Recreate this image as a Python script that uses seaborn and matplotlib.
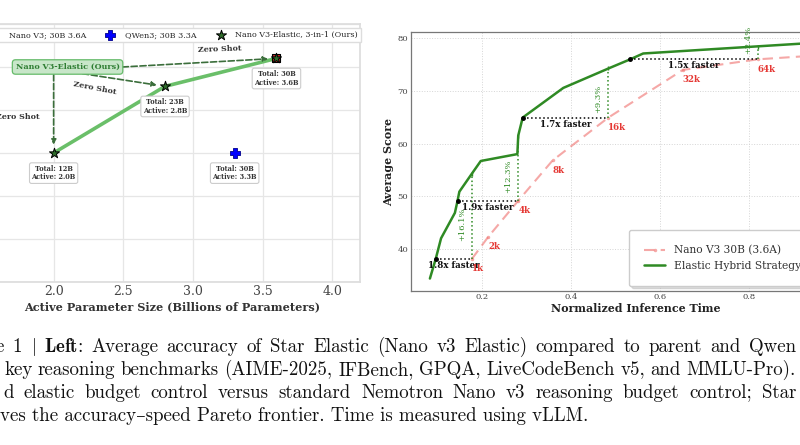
import numpy as np
import matplotlib
matplotlib.use("Agg")
import matplotlib.pyplot as plt
import seaborn as sns

# ---- left panel: accuracy vs active parameters ----
elastic_active = [2.0, 2.8, 3.6]
elastic_score = [72.0, 75.1, 76.4]
elastic_total = ["12B", "23B", "30B"]
elastic_act_txt = ["2.0B", "2.8B", "3.6B"]
nano_active = [3.6]
nano_score = [76.4]
qwen_active = [3.3]
qwen_score = [72.0]
qwen_total = ["30B"]
qwen_act_txt = ["3.3B"]
left_xticks = [2.0, 2.5, 3.0, 3.5, 4.0]
left_yticks = [66, 68, 70, 72, 74, 76, 78]

# ---- right panel: budget control ----
budget_labels = ["1k", "2k", "4k", "8k", "16k", "32k", "64k", "128k"]
nano_time = [0.178, 0.215, 0.282, 0.359, 0.484, 0.651, 0.819, 1.0]
nano_curve = [38.2, 42.4, 49.2, 56.8, 64.9, 73.9, 75.9, 76.9]
hybrid_time = [0.084, 0.097, 0.109, 0.140, 0.146, 0.150, 0.178, 0.198,
               0.280, 0.282, 0.292, 0.383, 0.485, 0.533, 0.562, 1.0]
hybrid_curve = [34.5, 38.2, 42.1, 46.9, 49.2, 50.9, 54.3, 56.7,
                58.0, 61.5, 64.9, 70.5, 74.2, 75.9, 77.0, 79.3]
callout_idx = [0, 2, 4, 6]
speed_labels = ["1.8x faster", "1.9x faster", "1.7x faster", "1.5x faster"]
gains = [16.1, 12.3, 9.3, 2.4]
right_xticks = [0.2, 0.4, 0.6, 0.8, 1.0]
right_yticks = [40, 50, 60, 70, 80]

caption_lines = [
    r"e 1 $|$ $\mathbf{Left}$: Average accuracy of Star Elastic (Nano v3 Elastic) compared to parent and Qwen",
    "key reasoning benchmarks (AIME-2025, IFBench, GPQA, LiveCodeBench v5, and MMLU-Pro).",
    "d elastic budget control versus standard Nemotron Nano v3 reasoning budget control; Star",
    "ves the accuracy\u2013speed Pareto frontier. Time is measured using vLLM.",
]

sns.set_theme(style="whitegrid")
plt.rcParams["font.family"] = ["DejaVu Serif"]
plt.rcParams["mathtext.fontset"] = "cm"

GREEN_DARK = "#2e6b2a"
LINE_GREEN = "#6abf69"
HY_GREEN = "#2f8a24"
RED = "#e53935"

W, H = 800, 445
fig = plt.figure(figsize=(8, 4.45), dpi=100)
ax_l = fig.add_axes([-0.02, 0.3663, 0.47, 0.5798])
ax_r = fig.add_axes([0.5134, 0.3467, 0.5616, 0.5807])

# ---------------- left ----------------
sns.lineplot(x=elastic_active, y=elastic_score, ax=ax_l, color=LINE_GREEN, lw=2.6,
             sort=False, estimator=None, legend=False, zorder=2)
sns.scatterplot(x=nano_active, y=nano_score, ax=ax_l, marker="s", s=36, color="#c62828",
                edgecolor="black", linewidth=0.8, zorder=3, label="Nano V3; 30B 3.6A")
sns.scatterplot(x=qwen_active, y=qwen_score, ax=ax_l, marker="P", s=55, color="#0000ff",
                edgecolor="#00008b", linewidth=0.6, zorder=3, label="QWen3; 30B 3.3A")
sns.scatterplot(x=elastic_active, y=elastic_score, ax=ax_l, marker="*", s=58, color=GREEN_DARK,
                edgecolor="black", linewidth=0.7, zorder=4, label="Nano V3-Elastic, 3-in-1 (Ours)")

ax_l.set_xlim(1.5, 4.2)
ax_l.set_ylim(66, 78)
ax_l.set_xticks(left_xticks)
ax_l.set_yticks(left_yticks)
ax_l.tick_params(axis="x", labelsize=9, colors="#444444", pad=2, length=0)
ax_l.tick_params(axis="y", labelleft=False, length=0)
ax_l.grid(True, color="#e6e6e6", lw=0.9)
for sp in ax_l.spines.values():
    sp.set_color("#dddddd")
ax_l.set_xlabel("Active Parameter Size (Billions of Parameters)", fontsize=8.1,
                fontweight="bold", color="#333333", labelpad=2.5)
ax_l.set_ylabel("")

box_kw = dict(boxstyle="round,pad=0.3", fc="white", ec="#cccccc", lw=0.8)
for x, y, t, a in zip(elastic_active + qwen_active, elastic_score + qwen_score,
                      elastic_total + qwen_total, elastic_act_txt + qwen_act_txt):
    ax_l.annotate(f"Total: {t}\nActive: {a}", (x, y), xytext=(0, -14.5),
                  textcoords="offset points", ha="center", va="center", fontsize=4.8,
                  fontweight="bold", color="#333333", bbox=box_kw, zorder=5,
                  linespacing=1.1)

ax_l.text(2.1, 76.0, "Nano V3-Elastic (Ours)", fontsize=5.8, fontweight="bold",
          color="#2e7d32", ha="center", va="center", zorder=6,
          bbox=dict(boxstyle="round,pad=0.4", fc="#c8e6c9", ec="#66bb6a", lw=0.9))

arrow_starts = [(2.493, 76.0), (2.207, 75.69), (2.0, 75.64)]
for (sx, sy), tx, ty in zip(arrow_starts, elastic_active[::-1], elastic_score[::-1]):
    ax_l.annotate("", xy=(tx, ty), xytext=(sx, sy),
                  arrowprops=dict(arrowstyle="-|>", ls="--", color="#3b6e3b", lw=1.2,
                                  mutation_scale=7, shrinkA=0, shrinkB=6), zorder=5)

zs_kw = dict(fontsize=5.7, fontweight="bold", color="#333333", ha="center", va="center")
ax_l.text(3.193, 76.84, "Zero Shot", rotation=2, **zs_kw)
ax_l.text(2.293, 75.02, "Zero Shot", rotation=-11, **zs_kw)
ax_l.text(1.74, 73.66, "Zero Shot", rotation=0, **zs_kw)

ax_l.legend(loc="upper center", ncol=3, fontsize=5.8, frameon=True, framealpha=1,
            edgecolor="#dddddd", fancybox=False, scatterpoints=1)

# ---------------- right ----------------
sns.lineplot(x=nano_time, y=nano_curve, ax=ax_r, color="#ef6f6c", alpha=0.6, lw=1.5,
             linestyle=(0, (5, 3)), marker="o", markersize=2.5, markeredgewidth=0,
             sort=False, estimator=None, label="Nano V3 30B (3.6A)", zorder=3)
sns.lineplot(x=hybrid_time, y=hybrid_curve, ax=ax_r, color=HY_GREEN, lw=1.8,
             sort=False, estimator=None, label="Elastic Hybrid Strategy", zorder=4)

for i, lab, g in zip(callout_idx, speed_labels, gains):
    xr, yr = nano_time[i], nano_curve[i]
    xg = np.interp(yr, hybrid_curve, hybrid_time)
    ax_r.plot([xg, xr], [yr, yr], ls=":", color="black", lw=1.1, marker="o",
              markersize=2.5, markevery=[0], zorder=5)
    ax_r.annotate(lab, ((xg + xr) / 2, yr), xytext=(0, -1.5), textcoords="offset points",
                  ha="center", va="top", fontsize=6.2, fontweight="bold", color="#111111", zorder=6)
    ax_r.plot([xr, xr], [yr, yr + g], ls=":", color=HY_GREEN, lw=1.1, marker="|",
              markersize=3, markevery=[1], zorder=5)
    ty = max(yr + g / 2 - 1.5, yr + 3.6)
    ax_r.annotate(f"+{g}%", (xr, ty), xytext=(-7, 0), textcoords="offset points",
                  rotation=90, ha="center", va="center", fontsize=6, color=HY_GREEN, zorder=6)

for x, y, lab in zip(nano_time[:-1], nano_curve[:-1], budget_labels[:-1]):
    ax_r.annotate(lab, (x, y), xytext=(0, -7.2), textcoords="offset points", ha="left",
                  va="center", fontsize=6.2, fontweight="bold", color=RED, zorder=6)

ax_r.set_xlim(0.041, 1.048)
ax_r.set_ylim(32.2, 81)
ax_r.set_xticks(right_xticks)
ax_r.set_yticks(right_yticks)
ax_r.tick_params(labelsize=6, colors="#444444", pad=2, length=0)
ax_r.grid(True, ls=":", color="#d5d5d5", lw=0.7)
for sp in ax_r.spines.values():
    sp.set_color("#777777")
    sp.set_linewidth(0.9)
ax_r.set_xlabel("Normalized Inference Time", fontsize=7.9, fontweight="bold",
                color="#222222", labelpad=1)
ax_r.set_ylabel("Average Score", fontsize=7.9, fontweight="bold", color="#222222",
                labelpad=2.5)
leg = ax_r.legend(loc="lower left", bbox_to_anchor=(0.486, 0.019), borderaxespad=0,
                  fontsize=7.7, borderpad=1.4, frameon=True, framealpha=1,
                  edgecolor="#cccccc", shadow={"color": "#bbbbbb", "alpha": 0.5})
for t in leg.get_texts():
    t.set_color("#333333")

# ---------------- caption (justified like the paper) ----------------
renderer = fig.canvas.get_renderer()
cap_kw = dict(fontsize=13.6, family=["cmr10", "DejaVu Serif"], color="#111111",
              ha="left", va="baseline")
cap_y = [352, 375, 398, 421]
cap_x = [-4, 4, 3, 0]
cap_right = 796
for n, (line, y, x0) in enumerate(zip(caption_lines, cap_y, cap_x)):
    if n == len(caption_lines) - 1:
        fig.text(x0 / W, 1 - y / H, line, **cap_kw)
        continue
    words = line.split(" ")
    texts = [fig.text(0, 1 - y / H, w, **cap_kw) for w in words]
    widths = [t.get_window_extent(renderer).width for t in texts]
    gap = (cap_right - x0 - sum(widths)) / (len(words) - 1)
    x = x0
    for t, w in zip(texts, widths):
        t.set_x(x / W)
        x += w + gap

fig.savefig("out.png", dpi=100)
